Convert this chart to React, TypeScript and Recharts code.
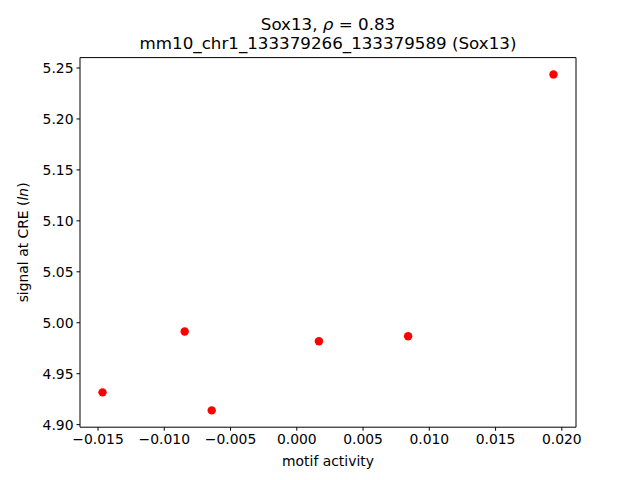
import { ScatterChart, Scatter, XAxis, YAxis, ReferenceLine } from "recharts";

const motifActivity = [-0.01466, -0.00846, -0.00642, 0.00167, 0.0084, 0.01937];
const creSignal = [4.9317, 4.9914, 4.914, 4.9819, 4.9868, 5.2437];

const xTicks = [-0.015, -0.01, -0.005, 0, 0.005, 0.01, 0.015, 0.02];
const yTicks = [4.9, 4.95, 5.0, 5.05, 5.1, 5.15, 5.2, 5.25];

const xDomain = [-0.01636, 0.02107];
const yDomain = [4.8975, 5.2602];

const points = motifActivity.map((x, i) => ({ x, y: creSignal[i] }));

const font = "'DejaVu Sans', sans-serif";
const tickStyle = { fill: "#000", fontSize: 13.9, fontFamily: font };

const fmt = (digits: number) => (v: number) => {
  const s = Math.abs(v).toFixed(digits);
  return v < -1e-12 ? `\u2212${s}` : s;
};

const Dot = (props: any) => {
  const { cx, cy } = props;
  return <circle cx={cx} cy={cy} r={4.2} fill="#ff0000" />;
};

export default function App() {
  return (
    <div style={{ position: "absolute", left: 0, top: 0, width: 640, height: 480, background: "#fff" }}>
      <ScatterChart
        width={640}
        height={480}
        margin={{ top: 57.6, right: 64, bottom: 0, left: 0 }}
      >
        <XAxis
          type="number"
          dataKey="x"
          domain={xDomain}
          ticks={xTicks}
          allowDataOverflow
          tickFormatter={fmt(3)}
          tick={tickStyle}
          tickSize={3.5}
          tickMargin={3}
          height={52.8}
          stroke="#000"
          interval={0}
        />
        <YAxis
          type="number"
          dataKey="y"
          domain={yDomain}
          ticks={yTicks}
          allowDataOverflow
          tickFormatter={fmt(2)}
          tick={tickStyle}
          tickSize={3.5}
          tickMargin={3}
          width={80}
          stroke="#000"
          interval={0}
        />
        <ReferenceLine y={yDomain[1]} stroke="#000" ifOverflow="extendDomain" />
        <ReferenceLine x={xDomain[1]} stroke="#000" ifOverflow="extendDomain" />
        <Scatter data={points} shape={<Dot />} isAnimationActive={false} />
      </ScatterChart>
      <svg
        width={640}
        height={480}
        style={{ position: "absolute", left: 0, top: 0, pointerEvents: "none" }}
        fontFamily={font}
      >
        <text x={328} y={30} textAnchor="middle" fontSize={16.7} fill="#000">
          Sox13, <tspan fontStyle="italic">ρ</tspan> = 0.83
        </text>
        <text x={328} y={49} textAnchor="middle" fontSize={16.7} fill="#000">
          mm10_chr1_133379266_133379589 (Sox13)
        </text>
        <text x={328} y={466} textAnchor="middle" fontSize={13.9} fill="#000">
          motif activity
        </text>
        <text
          x={23}
          y={242.4}
          textAnchor="middle"
          dominantBaseline="central"
          fontSize={13.9}
          fill="#000"
          transform="rotate(-90 23 242.4)"
        >
          signal at CRE (<tspan fontStyle="italic">ln</tspan>)
        </text>
      </svg>
    </div>
  );
}
